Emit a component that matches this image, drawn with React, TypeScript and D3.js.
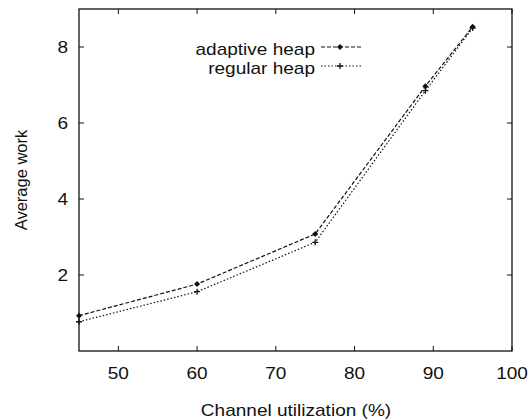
import React from "react";
import * as d3 from "d3";

const utilization = [45, 60, 75, 89, 95];
const adaptiveHeap = [0.93, 1.76, 3.08, 6.97, 8.53];
const regularHeap = [0.77, 1.56, 2.86, 6.85, 8.5];
const xTicks = [50, 60, 70, 80, 90, 100];
const yTicks = [2, 4, 6, 8];
const seriesNames = ["adaptive heap", "regular heap"];

const W = 530, H = 420;
const L = 79, R = 512, T = 9, B = 351;
const font = "'Liberation Sans', Arial, Helvetica, sans-serif";
const FS = 17;
const SX = 1.12;

function HText(props: { x: number; y: number; anchor: string; children: React.ReactNode }) {
  return (
    <text
      transform={`translate(${props.x},${props.y}) scale(${SX},1)`}
      textAnchor={props.anchor}
      fontFamily={font}
      fontSize={FS}
      fill="#111"
    >
      {props.children}
    </text>
  );
}

export default function App() {
  const x = d3.scaleLinear().domain([45, 100]).range([L, R]);
  const y = d3.scaleLinear().domain([0, 9]).range([B, T]);
  const line = d3.line<number>().x((_, i) => x(utilization[i])).y((d) => y(d));
  const series = [
    { name: seriesNames[0], data: adaptiveHeap, dash: "4,2", marker: "diamond" },
    { name: seriesNames[1], data: regularHeap, dash: "1.5,2", marker: "plus" },
  ];
  const marker = (kind: string, cx: number, cy: number, key: string) =>
    kind === "diamond" ? (
      <path key={key} d={`M${cx - 3},${cy}L${cx},${cy - 3}L${cx + 3},${cy}L${cx},${cy + 3}Z`} fill="#111" />
    ) : (
      <path key={key} d={`M${cx - 3},${cy}H${cx + 3}M${cx},${cy - 3}V${cy + 3}`} stroke="#111" strokeWidth={1.3} />
    );
  return (
    <svg width={W} height={H} style={{ position: "absolute", left: 0, top: 0, background: "#fff" }}>
      <rect x={L} y={T} width={R - L} height={B - T} fill="none" stroke="#111" strokeWidth={1.3} />
      {xTicks.map((t) => (
        <g key={"x" + t}>
          <line x1={x(t)} x2={x(t)} y1={B} y2={B - 5} stroke="#111" />
          <line x1={x(t)} x2={x(t)} y1={T} y2={T + 5} stroke="#111" />
          <HText x={x(t)} y={379} anchor="middle">{t}</HText>
        </g>
      ))}
      {yTicks.map((t) => (
        <g key={"y" + t}>
          <line x1={L} x2={L + 5} y1={y(t)} y2={y(t)} stroke="#111" />
          <line x1={R} x2={R - 5} y1={y(t)} y2={y(t)} stroke="#111" />
          <HText x={68} y={y(t) + 6} anchor="end">{t}</HText>
        </g>
      ))}
      <HText x={296} y={416} anchor="middle">Channel utilization (%)</HText>
      <text transform={`translate(27,180) rotate(-90)`} textAnchor="middle" fontFamily={font} fontSize={16.5} fill="#111">Average work</text>
      {series.map((s, si) => {
        const ly = 47 + si * 19;
        return (
          <g key={s.name}>
            <path d={line(s.data) || ""} fill="none" stroke="#111" strokeWidth={1.2} strokeDasharray={s.dash} />
            {s.data.map((v, i) => marker(s.marker, x(utilization[i]), y(v), s.name + i))}
            <HText x={315} y={ly + 8} anchor="end">{s.name}</HText>
            <line x1={321} x2={362} y1={ly} y2={ly} stroke="#111" strokeWidth={1.2} strokeDasharray={s.dash} />
            {marker(s.marker, 340, ly, s.name + "leg")}
          </g>
        );
      })}
    </svg>
  );
}
